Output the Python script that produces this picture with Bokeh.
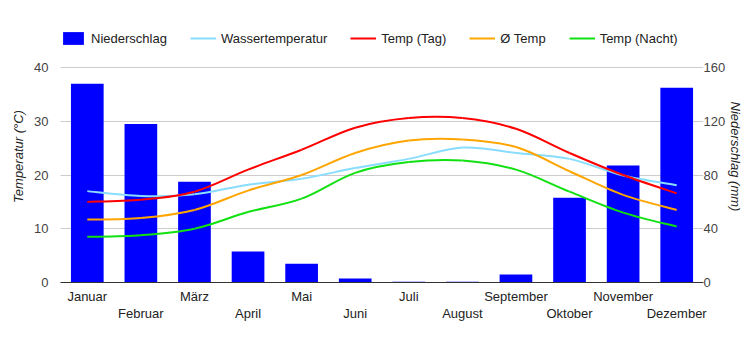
from bokeh.plotting import figure
from bokeh.models import (LinearAxis, Range1d, FixedTicker, Legend, LegendItem)
from bokeh.embed import file_html
from bokeh.resources import INLINE

months = ["Januar", "Februar", "März", "April", "Mai", "Juni", "Juli",
          "August", "September", "Oktober", "November", "Dezember"]
niederschlag = [148, 118, 75, 23, 14, 3, 0.5, 0.5, 6, 63, 87, 145]
wasser = [17.0, 16.1, 16.4, 18.2, 19.3, 21.3, 23.0, 25.1, 24.1, 23.0, 19.9, 18.1]
temp_tag = [15.0, 15.4, 16.9, 21.0, 24.7, 28.8, 30.6, 30.6, 28.6, 24.1, 20.0, 16.6]
temp_avg = [11.7, 12.0, 13.5, 17.1, 20.0, 24.1, 26.4, 26.6, 25.2, 20.7, 16.3, 13.5]
temp_nacht = [8.5, 8.8, 10.0, 13.1, 15.6, 20.4, 22.4, 22.7, 21.0, 16.9, 13.0, 10.4]
temp_ticks = [0, 10, 20, 30, 40]
rain_ticks = [0, 40, 80, 120, 160]

FONT = "Liberation Sans"
xs = [i + 0.5 for i in range(len(months))]

# plot frame extends above the 40 gridline to hold the legend
TOP_PAD = 37.0 / 5.375   # headroom in degC above 40
t_top = 40 + TOP_PAD
r_top = t_top * 4

p = figure(width=750, height=350, output_backend="svg", toolbar_location=None,
           x_range=Range1d(0, 12), y_range=Range1d(0, t_top),
           min_border_left=60, min_border_right=47, min_border_top=30,
           min_border_bottom=68)
p.outline_line_color = None
p.background_fill_color = "white"
p.border_fill_color = "white"
p.extra_y_ranges = {"rain": Range1d(0, r_top)}

# grid
p.xgrid.grid_line_color = None
p.ygrid.grid_line_color = "#cccccc"
p.ygrid.ticker = FixedTicker(ticks=temp_ticks)

# bars
bars = p.vbar(x=xs, top=niederschlag, width=0.61, y_range_name="rain",
              fill_color="#0000FF", line_color=None)


def smooth(ys, color, lw=2):
    n = len(ys)
    x0, y0, x1, y1, cx0, cy0, cx1, cy1 = [], [], [], [], [], [], [], []
    t = 1.0 / 6.0
    for i in range(n - 1):
        xm, ym = xs[max(i - 1, 0)], ys[max(i - 1, 0)]
        xa, ya = xs[i], ys[i]
        xb, yb = xs[i + 1], ys[i + 1]
        xp, yp = xs[min(i + 2, n - 1)], ys[min(i + 2, n - 1)]
        x0.append(xa); y0.append(ya); x1.append(xb); y1.append(yb)
        cx0.append(xa + (xb - xm) * t); cy0.append(ya + (yb - ym) * t)
        cx1.append(xb - (xp - xa) * t); cy1.append(yb - (yp - ya) * t)
    return p.bezier(x0=x0, y0=y0, x1=x1, y1=y1, cx0=cx0, cy0=cy0,
                    cx1=cx1, cy1=cy1, line_color=color, line_width=lw)


r_w = smooth(wasser, "#88DDFF")
r_avg = smooth(temp_avg, "#FFA500")
r_n = smooth(temp_nacht, "#11E011")
r_t = smooth(temp_tag, "#FF0000")

# axes
p.yaxis.ticker = FixedTicker(ticks=temp_ticks)
p.yaxis.axis_label = "Temperatur (°C)"
ax_r = LinearAxis(y_range_name="rain", ticker=FixedTicker(ticks=rain_ticks),
                  axis_label="Niederschlag (mm)")
p.add_layout(ax_r, "right")
for ax in (p.yaxis[0], ax_r):
    ax.axis_line_color = None
    ax.major_tick_line_color = None
    ax.minor_tick_line_color = None
    ax.major_label_text_font = FONT
    ax.major_label_text_font_size = "13px"
    ax.major_label_text_color = "#444444"
    ax.axis_label_text_font = FONT
    ax.axis_label_text_font_size = "13px"
    ax.axis_label_text_font_style = "italic"
    ax.axis_label_text_color = "#222222"
p.yaxis[0].major_label_standoff = 6
p.yaxis[0].axis_label_standoff = 5
ax_r.major_label_standoff = -6
ax_r.axis_label_standoff = 0

odd = xs[0::2]
even = xs[1::2]
xa1 = p.xaxis[0]
xa1.ticker = FixedTicker(ticks=odd)
xa1.major_label_overrides = {x: months[i * 2] for i, x in enumerate(odd)}
xa1.axis_line_color = "#333333"
xa1.major_label_standoff = 0
xa2 = LinearAxis(ticker=FixedTicker(ticks=even),
                 major_label_overrides={x: months[i * 2 + 1] for i, x in enumerate(even)})
xa2.axis_line_color = None
xa2.major_label_standoff = -7
p.add_layout(xa2, "below")
for ax in (xa1, xa2):
    ax.major_tick_line_color = None
    ax.minor_tick_line_color = None
    ax.major_label_text_font = FONT
    ax.major_label_text_font_size = "13px"
    ax.major_label_text_color = "#222222"

legend = Legend(items=[
    LegendItem(label="Niederschlag", renderers=[bars]),
    LegendItem(label="Wassertemperatur", renderers=[r_w]),
    LegendItem(label="Temp (Tag)", renderers=[r_t]),
    LegendItem(label="Ø Temp", renderers=[r_avg]),
    LegendItem(label="Temp (Nacht)", renderers=[r_n]),
], orientation="horizontal", location="top_left")
legend.glyph_width = 26
legend.glyph_height = 16
legend.label_standoff = 5
legend.spacing = 23
legend.padding = 0
legend.margin = 0
legend.border_line_color = None
legend.background_fill_alpha = 0
legend.label_text_font = FONT
legend.label_text_font_size = "13px"
legend.label_text_color = "#222222"
p.add_layout(legend, "center")

open("out.html", "w").write(file_html(p, INLINE))
